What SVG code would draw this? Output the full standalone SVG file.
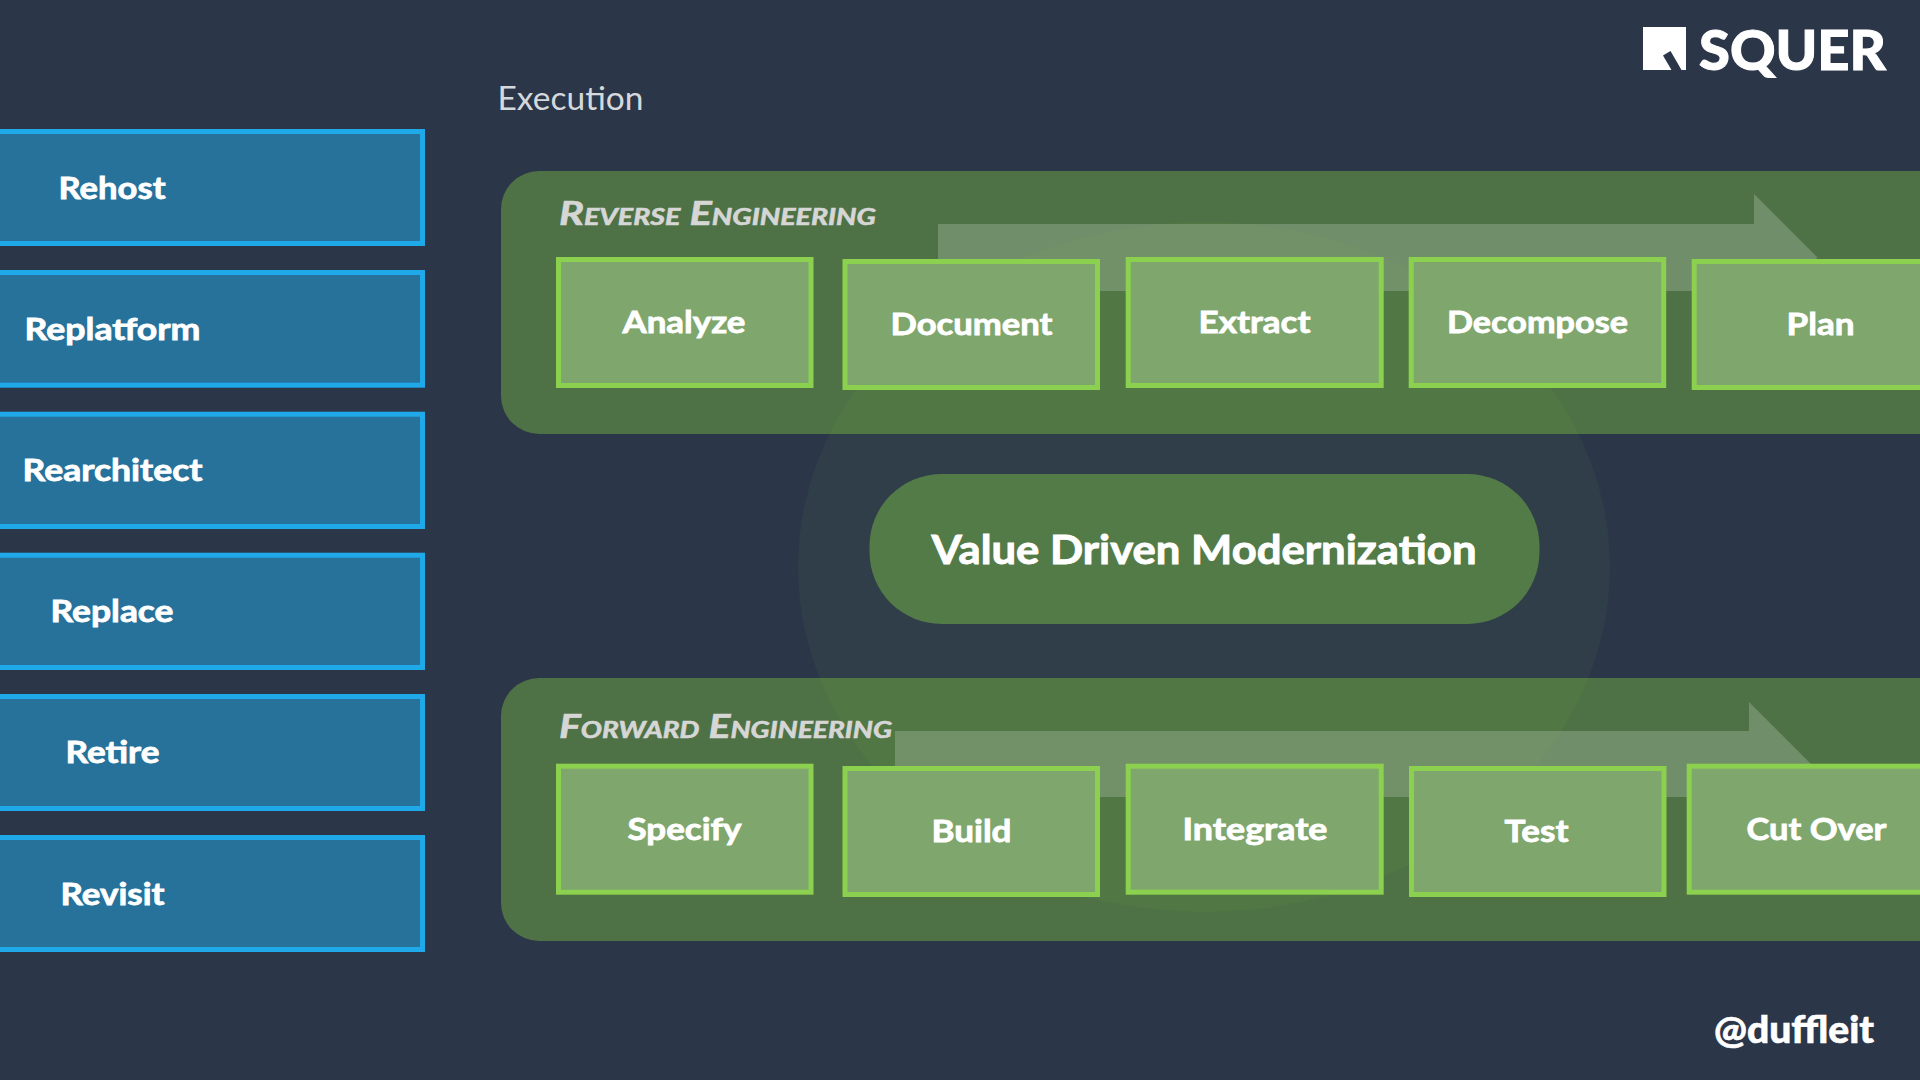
<svg xmlns="http://www.w3.org/2000/svg" width="1920" height="1080" viewBox="0 0 1920 1080">
<defs>
<style>
text{font-family:"Lato","Open Sans","Liberation Sans",sans-serif}
.l{font-weight:700;font-size:31px;fill:#fff;stroke:#fff;stroke-width:.8}
.b{fill:#26729b;stroke:#1fa9e8;stroke-width:5}
.g{fill:#7fa66d;stroke:#8bd04e;stroke-width:5}
.p{fill:#4e7245}
.a{fill:#fff;fill-opacity:.2}
.h{font-style:italic;font-weight:700;font-size:32px;font-variant:small-caps;fill:#d6d6d6;stroke:#d6d6d6;stroke-width:.6}
</style>
</defs>
<rect id="background" width="1920" height="1080" fill="#2b3648"/>
<g id="logo">
<path d="M1643,27H1686V70H1681.5L1670.5,51L1663,55.500L1671.500,70H1643Z" fill="#fff"/>
<text x="1699" y="69.500" font-size="56" font-weight="900" fill="#fff" stroke="#fff" stroke-width="1" textLength="187" lengthAdjust="spacingAndGlyphs">SQUER</text>
</g>
<text id="title" x="497.500" y="110" font-size="32" font-weight="400" fill="#d6d9dc" textLength="146" lengthAdjust="spacingAndGlyphs">Execution</text>
<g id="strategies">
<g id="rehost"><rect class="b" x="-10" y="131.500" width="432.500" height="112"/><text class="l" x="58.500" y="199" textLength="107" lengthAdjust="spacingAndGlyphs">Rehost</text></g>
<g id="replatform"><rect class="b" x="-10" y="272.500" width="432.500" height="112.700"/><text class="l" x="24.500" y="340" textLength="176" lengthAdjust="spacingAndGlyphs">Replatform</text></g>
<g id="rearchitect"><rect class="b" x="-10" y="414.200" width="432.500" height="112.300"/><text class="l" x="22.500" y="481" textLength="180" lengthAdjust="spacingAndGlyphs">Rearchitect</text></g>
<g id="replace"><rect class="b" x="-10" y="555.200" width="432.500" height="112.300"/><text class="l" x="50.500" y="622" textLength="123" lengthAdjust="spacingAndGlyphs">Replace</text></g>
<g id="retire"><rect class="b" x="-10" y="696.500" width="432.500" height="112"/><text class="l" x="65.500" y="763" textLength="94" lengthAdjust="spacingAndGlyphs">Retire</text></g>
<g id="revisit"><rect class="b" x="-10" y="837.500" width="432.500" height="112"/><text class="l" x="60.500" y="905" textLength="104" lengthAdjust="spacingAndGlyphs">Revisit</text></g>
</g>
<g id="panels">
<rect id="panel-reverse" class="p" x="501" y="171" width="1460" height="263" rx="38"/>
<rect id="panel-forward" class="p" x="501" y="678" width="1460" height="263" rx="38"/>
</g>
<g id="connectors">
<path class="a" d="M938,224H1754V194L1817.500,257.500L1754,321V291H938Z"/>
<path class="a" d="M895,731H1749V702L1811,764L1749,826V797H895Z"/>
</g>
<ellipse id="halo" cx="1204" cy="567" rx="406" ry="345" fill="#8ad04c" fill-opacity=".05"/>
<g id="center"><rect x="869.500" y="474" width="670" height="150" rx="72" fill="#537b48"/><text x="931.500" y="564" font-size="40" font-weight="700" fill="#fff" stroke="#fff" stroke-width=".9" textLength="545" lengthAdjust="spacingAndGlyphs">Value Driven Modernization</text></g>
<text id="label-reverse" class="h" x="559" y="225" textLength="317" lengthAdjust="spacingAndGlyphs">Reverse Engineering</text>
<text id="label-forward" class="h" x="559" y="738" textLength="333" lengthAdjust="spacingAndGlyphs">Forward Engineering</text>
<g id="reverse-steps">
<g id="analyze"><rect class="g" x="558.500" y="259.500" width="252.500" height="126"/><text class="l" x="622.500" y="333" textLength="123" lengthAdjust="spacingAndGlyphs">Analyze</text></g>
<g id="document"><rect class="g" x="845" y="261.500" width="252.500" height="126"/><text class="l" x="890.500" y="335" textLength="162" lengthAdjust="spacingAndGlyphs">Document</text></g>
<g id="extract"><rect class="g" x="1128.200" y="259.500" width="253" height="126"/><text class="l" x="1198.500" y="333" textLength="112" lengthAdjust="spacingAndGlyphs">Extract</text></g>
<g id="decompose"><rect class="g" x="1411.200" y="259.500" width="252.500" height="126"/><text class="l" x="1447" y="333" textLength="181" lengthAdjust="spacingAndGlyphs">Decompose</text></g>
<g id="plan"><rect class="g" x="1694.200" y="261.500" width="260" height="126"/><text class="l" x="1786.500" y="335" textLength="68" lengthAdjust="spacingAndGlyphs">Plan</text></g>
</g>
<g id="forward-steps">
<g id="specify"><rect class="g" x="558.500" y="766.200" width="252.500" height="126"/><text class="l" x="627.500" y="840" textLength="114" lengthAdjust="spacingAndGlyphs">Specify</text></g>
<g id="build"><rect class="g" x="845" y="768.500" width="252.500" height="126"/><text class="l" x="931.500" y="842" textLength="80" lengthAdjust="spacingAndGlyphs">Build</text></g>
<g id="integrate"><rect class="g" x="1128.200" y="766.200" width="253" height="126"/><text class="l" x="1182.500" y="840" textLength="145" lengthAdjust="spacingAndGlyphs">Integrate</text></g>
<g id="test"><rect class="g" x="1411.500" y="768.500" width="252.500" height="126"/><text class="l" x="1504.500" y="842" textLength="64" lengthAdjust="spacingAndGlyphs">Test</text></g>
<g id="cutover"><rect class="g" x="1689.200" y="766.200" width="265" height="126"/><text class="l" x="1746.500" y="840" textLength="140" lengthAdjust="spacingAndGlyphs">Cut Over</text></g>
</g>
<text id="handle" x="1714" y="1043" font-size="37" font-weight="900" fill="#fff" stroke="#fff" stroke-width=".6" textLength="160" lengthAdjust="spacingAndGlyphs">@duffleit</text>
</svg>
